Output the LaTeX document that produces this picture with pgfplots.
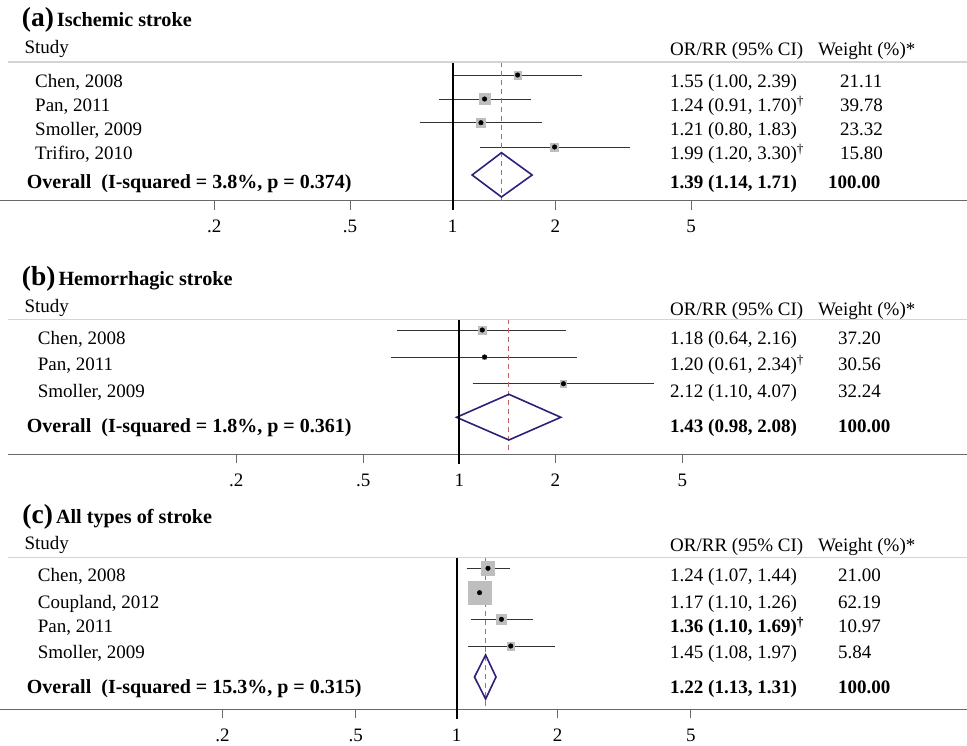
\documentclass[border=0pt]{standalone}
\usepackage{pgfplots}
\pgfplotsset{compat=1.18}
\usepackage{fontspec}
\setmainfont{Liberation Serif}
\newcommand\fs{\fontsize{19}{22}\selectfont}
\newcommand\fsb{\fontsize{19}{22}\selectfont\bfseries}
\newcommand\fso{\fontsize{20}{23}\selectfont\bfseries}
\newcommand\ttl[2]{{\fontsize{27.5}{30}\selectfont\bfseries #1}\hspace{3pt}{\fontsize{20.2}{24}\selectfont\bfseries #2}}
\newcommand\dg{\textsuperscript{†}}
\definecolor{boxgray}{RGB}{190,190,190}
\definecolor{dcol}{RGB}{50,30,120}
\definecolor{dashcol}{RGB}{190,100,100}
\definecolor{topgray}{RGB}{212,212,212}
\definecolor{axgray}{RGB}{105,105,105}
\pgfplotsset{
 fpanel/.style={scale only axis, anchor=south west, clip=false,
   enlargelimits=false, axis x line=bottom, axis y line=none,
   x axis line style={-, draw=axgray, line width=1.4pt},
   xtick={0.2,0.5,1,2,5}, xticklabels={.2,.5,1,2,5}, minor xtick={},
   xtick style={draw=axgray, line width=1pt}, tick align=outside, major tick length=9pt,
   ytick=\empty, xticklabel style={font=\fs, anchor=base, yshift=-23.3pt}},
 fbox/.style={scatter, only marks, mark=square*,
   scatter/use mapped color={draw=boxgray, fill=boxgray},
   visualization depends on={\thisrow{h}\as\hs},
   scatter/@pre marker code/.append style={/tikz/mark size=\hs}},
 fci/.style={black!80, line width=0.95pt},
 fdot/.style={only marks, mark=*, mark size=2.3pt, black},
 fdiam/.style={dcol, line width=1.6pt, line join=miter},
 fdash/.style={dashcol, line width=0.9pt, dash pattern=on 5pt off 4pt},
}
\begin{document}
\begin{tikzpicture}[x=1pt,y=1pt]
\useasboundingbox (0,0) rectangle (967,745);
% ---------------- Panel (a)
\begin{semilogxaxis}[fpanel, at={(0pt,544.3pt)}, width=967pt, height=138.7pt, xmin=0.04703, xmax=32.23, ymin=544.3, ymax=683]
\addplot[fbox] table {
x y h
1.55 670 3.85
1.24 646 5.5
1.21 622.3 4.35
1.99 598 4.0
};
\addplot[fci] coordinates {(1.00,670) (2.39,670)};
\addplot[fci] coordinates {(0.91,646) (1.70,646)};
\addplot[fci] coordinates {(0.80,622.3) (1.83,622.3)};
\addplot[fci] coordinates {(1.20,598) (3.30,598)};
\addplot[fdot] table {
x y
1.55 670
1.24 646
1.21 622.3
1.99 598
};
\addplot[fdash] coordinates {(1.39,683) (1.39,544.3)};
\addplot[fdiam] coordinates {(1.14,570) (1.39,592.3) (1.71,570) (1.39,548)} -- cycle;
\draw[black, line width=1.8pt] (axis cs:1,683) -- (axis cs:1,534.5);
\end{semilogxaxis}
% ---------------- Panel (b)
\begin{semilogxaxis}[fpanel, at={(8pt,290.7pt)}, width=959pt, height=135pt, xmin=0.03848, xmax=39.04, ymin=290.7, ymax=425.7]
\addplot[fbox] table {
x y h
1.18 415 4.2
1.20 388 2.0
2.12 361.3 3.2
};
\addplot[fci] coordinates {(0.64,415) (2.16,415)};
\addplot[fci] coordinates {(0.61,388) (2.34,388)};
\addplot[fci] coordinates {(1.10,361.3) (4.07,361.3)};
\addplot[fdot] table {
x y
1.18 415
1.20 388
2.12 361.3
};
\addplot[fdash] coordinates {(1.43,425.7) (1.43,290.7)};
\addplot[fdiam] coordinates {(0.98,327.7) (1.43,350.7) (2.08,327.7) (1.43,305)} -- cycle;
\draw[black, line width=1.8pt] (axis cs:1,425.7) -- (axis cs:1,281);
\end{semilogxaxis}
% ---------------- Panel (c)
\begin{semilogxaxis}[fpanel, at={(0pt,35.7pt)}, width=967pt, height=152pt, xmin=0.04332, xmax=33.37, ymin=35.7, ymax=187.7]
\addplot[fbox] table {
x y h
1.24 176.7 6.6
1.17 152.3 11.2
1.36 125.7 5.1
1.45 99 3.7
};
\addplot[fci] coordinates {(1.07,176.7) (1.44,176.7)};
\addplot[fci] coordinates {(1.10,152.3) (1.26,152.3)};
\addplot[fci] coordinates {(1.10,125.7) (1.69,125.7)};
\addplot[fci] coordinates {(1.08,99) (1.97,99)};
\addplot[fdot] table {
x y
1.24 176.7
1.17 152.3
1.36 125.7
1.45 99
};
\addplot[fdash] coordinates {(1.22,187.7) (1.22,35.7)};
\addplot[fdiam] coordinates {(1.13,68) (1.22,90) (1.31,68) (1.22,46)} -- cycle;
\draw[black, line width=1.8pt] (axis cs:1,187.7) -- (axis cs:1,26.5);
\end{semilogxaxis}
% ---------------- header rules
\draw[topgray, line width=1.5pt] (8,683) -- (967,683);
\draw[topgray, line width=1.5pt] (8,425.7) -- (967,425.7);
\draw[topgray, line width=1.5pt] (8,187.7) -- (967,187.7);
\begin{scope}[every node/.style={anchor=base west, inner sep=0pt, font=\fs}]
% ---------------- texts panel (a)
\node at (21.7,718.3) {\ttl{(a)}{Ischemic stroke}};
\node at (24.3,691.5) {Study};
\node at (670,689) {OR/RR (95\% CI)};
\node at (818,689) {Weight (\%)*};
\node at (35,657.3) {Chen, 2008};
\node at (35,633.3) {Pan, 2011};
\node at (35,609.3) {Smoller, 2009};
\node at (35,585.3) {Trifiro, 2010};
\node[font=\fso] at (26.7,556.5) {Overall\ \ (I-squared = 3.8\%, p = 0.374)};
\node at (670,657.3) {1.55 (1.00, 2.39)};
\node at (670,633.3) {1.24 (0.91, 1.70)\dg};
\node at (670,609.3) {1.21 (0.80, 1.83)};
\node at (670,585.3) {1.99 (1.20, 3.30)\dg};
\node[font=\fsb] at (670,556.5) {1.39 (1.14, 1.71)};
\node at (840,657.3) {21.11};
\node at (840,633.3) {39.78};
\node at (840,609.3) {23.32};
\node at (840,585.3) {15.80};
\node[font=\fsb] at (828,556.5) {100.00};
% ---------------- texts panel (b)
\node at (21.7,459) {\ttl{(b)}{Hemorrhagic stroke}};
\node at (24.3,432.3) {Study};
\node at (670,429.8) {OR/RR (95\% CI)};
\node at (818,429.8) {Weight (\%)*};
\node at (37.7,400.7) {Chen, 2008};
\node at (37.7,374) {Pan, 2011};
\node at (37.7,347.3) {Smoller, 2009};
\node[font=\fso] at (26.7,312.3) {Overall\ \ (I-squared = 1.8\%, p = 0.361)};
\node at (670,400.7) {1.18 (0.64, 2.16)};
\node at (670,374) {1.20 (0.61, 2.34)\dg};
\node at (670,347.3) {2.12 (1.10, 4.07)};
\node[font=\fsb] at (670,312.3) {1.43 (0.98, 2.08)};
\node at (838,400.7) {37.20};
\node at (838,374) {30.56};
\node at (838,347.3) {32.24};
\node[font=\fsb] at (838,312.3) {100.00};
% ---------------- texts panel (c)
\node at (22.3,221.7) {\ttl{(c)}{All types of stroke}};
\node at (24.3,195.7) {Study};
\node at (670,193.5) {OR/RR (95\% CI)};
\node at (818,193.5) {Weight (\%)*};
\node at (37.7,163.3) {Chen, 2008};
\node at (37.7,136) {Coupland, 2012};
\node at (37.7,112.3) {Pan, 2011};
\node at (37.7,86.3) {Smoller, 2009};
\node[font=\fso] at (26.7,51.7) {Overall\ \ (I-squared = 15.3\%, p = 0.315)};
\node at (670,163.3) {1.24 (1.07, 1.44)};
\node at (670,136) {1.17 (1.10, 1.26)};
\node[font=\fsb] at (670,112.3) {1.36 (1.10, 1.69)\dg};
\node at (670,86.3) {1.45 (1.08, 1.97)};
\node[font=\fsb] at (670,51.7) {1.22 (1.13, 1.31)};
\node at (838,163.3) {21.00};
\node at (838,136) {62.19};
\node at (838,112.3) {10.97};
\node at (838,86.3) {5.84};
\node[font=\fsb] at (838,51.7) {100.00};
\end{scope}
\end{tikzpicture}
\end{document}
